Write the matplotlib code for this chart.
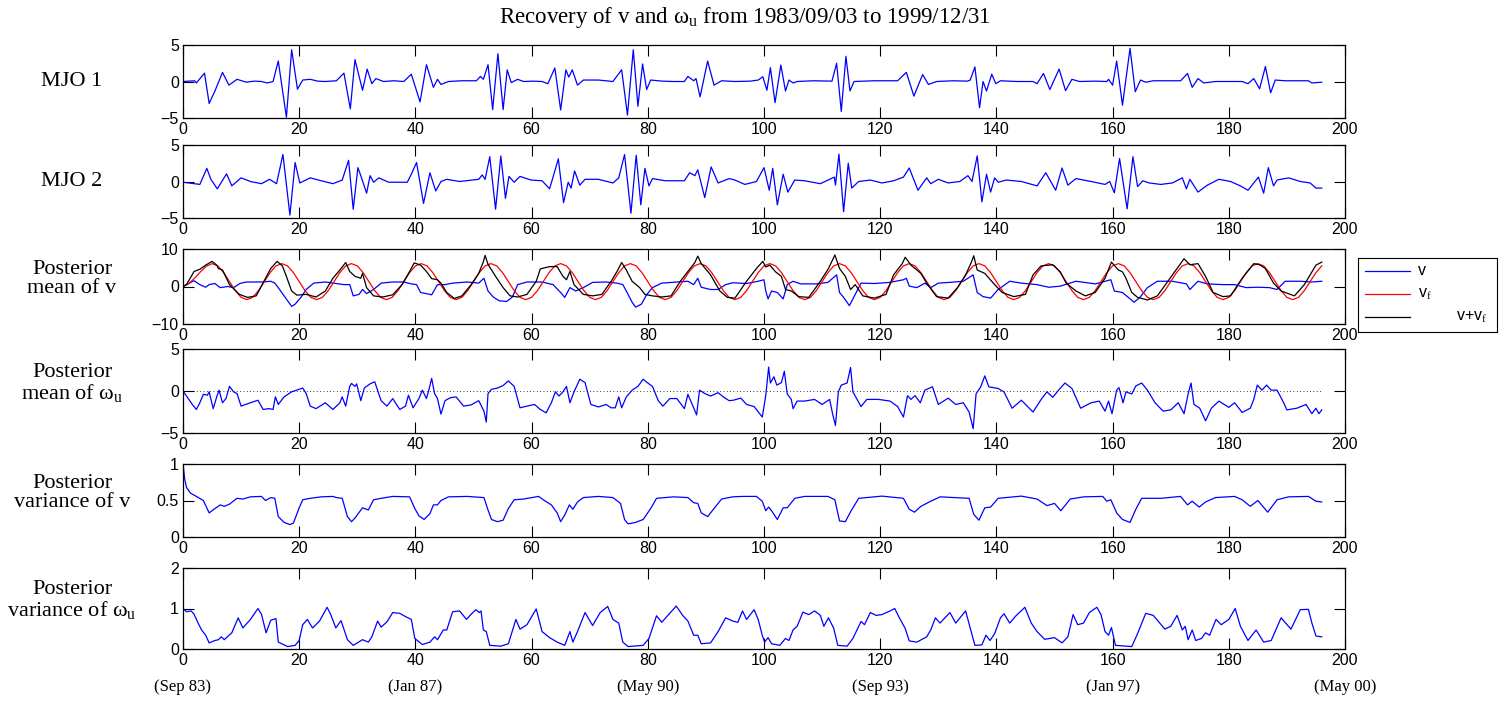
import matplotlib
matplotlib.use('Agg')
import matplotlib.pyplot as plt
import matplotlib.transforms as mtransforms
from matplotlib.ticker import FuncFormatter

plt.rcParams['font.family'] = 'Liberation Sans'
plt.rcParams['mathtext.fontset'] = 'custom'
plt.rcParams['mathtext.rm'] = 'Liberation Serif'
plt.rcParams['mathtext.it'] = 'Liberation Serif'
plt.rcParams['mathtext.default'] = 'rm'

SERIF = 'Liberation Serif'

# ---- data: (month, value) key points ----
mjo1 = [(0, 0.0), (2.0, 0.1), (2.3, -0.2), (3.7, 1.15), (4.5, -3.0), (5.5, -1.3), (6.8, 1.25),
        (7.9, -0.5), (9.3, 0.3), (10.9, -0.1), (12.2, 0.05), (13.5, 0.0), (14.5, -0.2), (15.5, 0.0),
        (16.4, 2.8), (17.8, -4.9), (18.7, 4.35), (19.7, -1.05), (20.6, 0.2), (21.9, 0.3), (23.2, 0.05),
        (24.5, 0.0), (26.4, 0.1), (27.7, 1.15), (28.8, -3.75), (29.6, 3.0), (30.9, -1.2), (31.7, 1.7),
        (32.5, -0.3), (33.2, 0.4), (34.5, 0.0), (36.3, 0.1), (38.0, 0.0), (39.3, 1.0), (40.8, -2.8),
        (41.9, 2.3), (43.1, -0.8), (43.8, 0.3), (44.4, -0.4), (45.7, 0.0), (48.0, 0.1), (50.5, 0.1),
        (51.2, 0.7), (51.7, 0.3), (52.5, 2.3), (53.3, -3.85), (54.2, 3.8), (55.1, -3.85), (55.8, 1.6),
        (56.5, -0.15), (57.6, 0.3), (58.6, 0.0), (60.2, 0.05), (61.8, 0.0), (62.8, -0.3), (64.0, 1.85),
        (65.0, -3.9), (65.9, 1.6), (66.4, 0.6), (67.0, 1.6), (67.9, -0.5), (68.9, 0.2), (71.5, 0.2),
        (74.0, 0.0), (75.5, 1.6), (76.5, -4.6), (77.5, 4.35), (78.3, -3.4), (79.1, 2.4), (79.8, -1.1),
        (80.5, 0.2), (82.5, 0.05), (84.4, 0.0), (86.3, 0.0), (86.9, 0.7), (87.9, 0.1), (88.3, 0.4),
        (89.0, -2.1), (90.3, 2.8), (91.4, -0.5), (92.7, 0.1), (95.0, 0.0), (97.7, 0.05), (99.0, 0.2),
        (99.8, 0.65), (100.5, -1.2), (101.1, 1.9), (101.9, -2.9), (102.9, 2.25), (103.7, -1.3),
        (104.3, 0.2), (105.0, -0.2), (105.7, 0.0), (108.5, 0.1), (111.7, 0.05), (112.5, 2.5),
        (113.3, -4.1), (114.1, 3.45), (114.8, -1.3), (115.5, 0.0), (119.0, 0.1), (123.0, 0.1),
        (124.5, 1.25), (125.8, -2.0), (127.3, 0.95), (128.3, -0.4), (129.7, 0.0), (132.5, 0.1),
        (135.0, 0.05), (135.5, 0.2), (136.3, 2.0), (137.1, -3.6), (137.7, 0.0), (138.3, -1.3),
        (139.2, 1.0), (139.9, -0.3), (140.7, 0.1), (143.5, 0.0), (146.3, 0.0), (147.0, -0.3),
        (148.1, 1.1), (149.2, -1.1), (150.8, 1.7), (151.9, -1.25), (153.0, 0.3), (154.3, 0.0),
        (157.0, 0.05), (159.0, 0.0), (159.3, 0.3), (160.0, -0.5), (160.7, 2.8), (161.7, -3.25),
        (163.0, 4.55), (163.9, -1.4), (164.8, 0.2), (165.7, -0.1), (167.0, 0.1), (171.7, 0.1),
        (172.9, 1.1), (173.7, -0.8), (174.7, 0.4), (175.7, -0.2), (177.7, 0.0), (182.3, 0.0),
        (183.3, -0.3), (184.3, 0.4), (185.3, -1.0), (186.3, 2.05), (187.2, -1.55), (188.0, 0.2),
        (189.7, 0.1), (193.7, 0.1), (194.3, -0.2), (196.0, -0.1)]

mjo2 = [(0, -0.1), (2.9, -0.4), (4.1, 1.8), (4.8, 0.3), (5.9, -1.0), (7.5, 1.05), (8.4, -0.6),
        (10.0, 0.5), (11.6, 0.0), (13.5, -0.3), (14.9, 0.3), (16.1, -0.3), (17.2, 3.7), (18.4, -4.6),
        (19.3, 2.6), (20.1, -0.2), (21.9, 0.5), (23.8, 0.1), (25.8, -0.3), (27.4, 0.2), (28.5, 2.9),
        (29.3, -3.8), (30.1, 1.9), (30.6, 0.8), (31.6, -1.6), (32.2, 0.8), (32.8, -0.1), (33.7, 0.5),
        (35.4, -0.1), (38.6, -0.1), (39.3, 1.0), (40.2, 2.6), (41.4, -3.0), (42.5, 1.2), (43.5, -1.3),
        (44.4, 0.0), (45.4, 0.3), (47.6, 0.0), (50.9, 0.3), (51.5, 0.9), (52.0, 0.3), (52.8, 3.4),
        (53.8, -3.8), (54.7, 3.5), (55.5, -2.3), (56.1, 0.7), (57.0, -0.1), (58.0, 0.7), (59.9, 0.2),
        (61.8, 0.1), (63.1, -1.0), (64.6, 3.1), (65.5, -2.9), (66.3, -0.1), (66.8, -0.9), (67.4, 1.45),
        (68.3, -0.5), (69.2, 0.3), (71.5, 0.3), (74.0, -0.2), (75.0, 0.5), (76.0, 3.7), (77.1, -4.35),
        (78.0, 3.6), (78.8, -3.2), (79.5, 1.8), (80.2, -0.6), (80.8, 0.4), (83.0, 0.1), (86.3, 0.1),
        (87.2, 1.2), (88.1, 0.8), (88.6, 1.6), (89.8, -2.2), (90.9, 2.0), (92.1, -0.2), (94.0, 0.4),
        (95.0, 0.2), (96.7, -0.4), (98.7, 0.0), (100.0, 1.9), (100.9, -1.2), (101.5, 1.8),
        (102.3, -3.2), (103.3, 1.0), (104.1, -1.45), (105.3, 0.2), (107.0, 0.1), (109.7, -0.3),
        (111.3, 0.3), (112.1, 0.6), (112.3, -0.5), (112.9, 3.75), (113.7, -4.15), (114.5, 2.5),
        (115.1, -0.9), (116.3, 0.0), (118.3, 0.2), (120.3, -0.2), (122.3, 0.1), (124.0, 0.6),
        (125.0, 1.85), (126.5, -1.2), (128.0, 0.5), (128.7, -0.3), (130.0, 0.3), (131.7, -0.2),
        (133.7, 0.0), (135.1, 0.8), (135.8, 0.0), (136.7, 3.5), (137.5, -2.8), (138.3, 1.0),
        (139.0, -1.45), (139.7, 0.5), (140.3, -0.1), (141.7, 0.2), (144.3, 0.0), (147.0, -0.6),
        (148.5, 1.2), (150.2, -1.2), (151.3, 1.85), (152.3, -0.5), (153.7, 0.4), (156.3, 0.0),
        (158.7, -0.4), (159.5, 0.0), (160.3, -1.55), (161.2, 3.15), (162.5, -3.75), (163.5, 3.4),
        (164.3, -0.7), (165.2, 0.1), (166.3, -0.2), (168.3, -0.4), (170.3, -0.2), (172.0, 0.5),
        (172.7, -1.0), (173.3, 0.3), (174.7, -1.45), (176.3, -0.5), (178.3, 0.3), (180.3, 0.0),
        (182.0, -0.6), (183.3, -1.2), (185.1, 0.6), (186.0, -1.6), (186.8, 1.9), (187.7, -0.6),
        (188.3, 0.2), (190.3, 0.5), (192.3, 0.0), (194.0, -0.2), (195.0, -0.9), (196.0, -0.9)]

# red curve v_f, one value per month (0..196)
v_f = [0.0, 0.8, 2.2, 3.9, 5.4,
       6.1, 5.5, 3.7, 1.3, -1.1, -2.9, -3.5, -2.9, -1.1, 1.3, 3.7, 5.5,
       6.1, 5.5, 3.7, 1.3, -1.1, -2.9, -3.5, -2.9, -1.1, 1.3, 3.7, 5.5,
       6.1, 5.5, 3.7, 1.3, -1.1, -2.9, -3.5, -2.9, -1.1, 1.3, 3.7, 5.5,
       6.1, 5.5, 3.7, 1.3, -1.1, -2.9, -3.5, -2.9, -1.1, 1.3, 3.7, 5.5,
       6.1, 5.5, 3.7, 1.3, -1.1, -2.9, -3.5, -2.9, -1.1, 1.3, 3.7, 5.5,
       6.1, 5.5, 3.7, 1.3, -1.1, -2.9, -3.5, -2.9, -1.1, 1.3, 3.7, 5.5,
       6.1, 5.5, 3.7, 1.3, -1.1, -2.9, -3.5, -2.9, -1.1, 1.3, 3.7, 5.5,
       6.1, 5.5, 3.7, 1.3, -1.1, -2.9, -3.5, -2.9, -1.1, 1.3, 3.7, 5.5,
       6.1, 5.5, 3.7, 1.3, -1.1, -2.9, -3.5, -2.9, -1.1, 1.3, 3.7, 5.5,
       6.1, 5.5, 3.7, 1.3, -1.1, -2.9, -3.5, -2.9, -1.1, 1.3, 3.7, 5.5,
       6.1, 5.5, 3.7, 1.3, -1.1, -2.9, -3.5, -2.9, -1.1, 1.3, 3.7, 5.5,
       6.1, 5.5, 3.7, 1.3, -1.1, -2.9, -3.5, -2.9, -1.1, 1.3, 3.7, 5.5,
       6.1, 5.5, 3.7, 1.3, -1.1, -2.9, -3.5, -2.9, -1.1, 1.3, 3.7, 5.5,
       6.1, 5.5, 3.7, 1.3, -1.1, -2.9, -3.5, -2.9, -1.1, 1.3, 3.7, 5.5,
       6.1, 5.5, 3.7, 1.3, -1.1, -2.9, -3.5, -2.9, -1.1, 1.3, 3.7, 5.5,
       6.1, 5.5, 3.7, 1.3, -1.1, -2.9, -3.5, -2.9, -1.1, 1.3, 3.7, 5.5]

v_mean = [(0, 0.0), (1.9, 1.55), (2.9, 0.5), (3.9, -0.2), (4.5, 0.5), (5.5, 0.8), (6.4, -0.3),
          (7.7, 0.0), (8.7, -0.3), (9.8, 0.8), (10.9, 1.2), (13.5, 1.2), (15.1, 1.4), (15.8, 0.9),
          (16.4, -0.3), (17.4, -2.5), (18.7, -5.3), (19.3, -4.7), (20.3, -2.9), (21.2, -0.8),
          (22.5, 0.9), (24.5, 1.2), (26.7, 0.7), (27.7, 0.5), (28.7, 0.5), (29.3, -2.5), (30.3, -2.1),
          (30.9, -0.8), (31.6, -1.9), (32.8, -0.8), (34.1, 0.9), (36.1, 1.2), (38.0, 1.2), (39.3, 0.7),
          (40.2, 0.5), (40.9, -1.6), (41.9, -1.9), (42.8, -2.2), (43.8, 0.5), (45.1, 0.5), (46.4, 0.9),
          (48.9, 1.2), (50.9, 0.9), (51.8, 2.2), (52.5, -1.2), (53.4, -2.8), (54.4, -3.8), (55.7, -4.0),
          (56.7, -2.8), (57.6, 0.5), (59.2, 1.2), (61.8, 1.2), (63.7, 0.5), (65.0, -1.6), (65.7, -2.9),
          (66.6, -0.3), (67.6, -1.2), (68.9, -0.3), (70.5, 1.1), (72.8, 1.2), (74.7, 0.9), (75.7, 0.5),
          (76.3, -1.2), (77.3, -4.2), (77.9, -5.5), (78.9, -4.7), (79.8, -2.2), (80.8, -0.3),
          (82.4, 0.9), (85.0, 1.2), (86.9, 1.4), (87.9, 0.5), (88.6, 2.2), (89.2, -0.2), (90.8, -0.8),
          (92.1, -0.8), (93.4, 0.5), (94.6, 1.0), (97.0, 0.8), (99.0, 1.4), (100.0, 1.8),
          (100.3, -1.2), (100.7, -3.3), (101.3, -1.2), (102.3, -1.6), (103.3, -3.3), (104.0, 0.5),
          (105.0, 1.4), (106.3, 0.7), (109.0, 0.7), (111.0, 1.1), (112.5, 3.1), (113.0, -1.6),
          (113.7, -2.9), (114.7, -5.1), (115.7, -2.1), (116.7, 0.9), (119.0, 0.8), (121.7, 1.1),
          (124.0, 1.8), (124.5, 2.2), (125.0, 0.1), (126.3, -0.3), (127.7, 0.9), (128.7, -0.3),
          (130.0, 0.9), (132.0, 1.1), (134.3, 1.4), (136.0, 3.1), (136.7, -1.6), (137.7, -2.7),
          (139.0, -3.1), (140.3, -0.8), (142.3, 1.4), (144.3, 0.9), (147.0, 0.5), (149.0, -0.2),
          (151.0, 0.1), (153.7, 1.4), (157.0, 0.7), (158.7, 1.4), (159.7, 1.8), (160.3, -1.2),
          (161.7, -1.6), (162.7, -2.9), (163.7, -4.2), (164.7, -2.9), (166.0, -0.3), (167.7, 1.4),
          (170.3, 1.4), (172.7, 0.7), (173.3, -0.8), (174.7, 1.4), (176.3, 0.7), (179.0, 0.5),
          (181.0, 0.5), (183.0, -0.3), (185.0, -0.2), (187.0, -0.3), (188.3, -0.8), (189.7, 1.4),
          (192.3, 1.4), (194.3, 1.2), (196.0, 1.4)]

v_total = [(0, 0.0), (0.6, 0.5), (1.9, 4.0), (2.9, 4.6), (3.9, 5.7), (5.0, 6.7), (5.8, 5.7),
           (6.1, 4.8), (6.8, 4.4), (8.0, 0.5), (9.7, -2.1), (11.1, -2.9), (12.6, -2.5), (14.2, 2.2),
           (15.1, 4.8), (16.2, 6.7), (17.1, 5.5), (17.7, 3.1), (18.7, -1.2), (19.6, -2.3), (21.2, -2.1),
           (22.9, -2.8), (24.5, -1.2), (25.8, 2.2), (27.0, 4.4), (28.0, 6.4), (28.7, 4.0), (29.6, 2.7),
           (30.6, 2.2), (30.9, 3.5), (31.6, -0.3), (32.8, -2.5), (34.4, -2.8), (36.1, -2.2),
           (37.7, 0.5), (39.0, 4.0), (39.8, 6.3), (40.9, 5.7), (41.9, 4.0), (42.8, 2.1), (43.8, 1.8),
           (44.4, 0.9), (45.4, -1.6), (46.7, -3.2), (48.0, -2.5), (49.6, 0.5), (50.9, 3.5),
           (51.7, 6.6), (52.0, 8.3), (52.5, 5.9), (53.8, 2.7), (55.1, -0.3), (56.3, -2.5), (57.6, -2.8),
           (59.2, -2.1), (60.8, 1.4), (61.5, 4.7), (63.1, 5.3), (64.4, 5.3), (65.4, 2.7), (66.0, 1.8),
           (66.6, 4.0), (67.3, 0.5), (68.9, -2.1), (70.5, -2.5), (72.1, -2.1), (73.7, 1.4), (74.7, 4.0),
           (75.5, 6.4), (76.3, 4.4), (77.3, 1.4), (78.6, -0.3), (79.5, -2.1), (80.8, -2.5), (82.4, -2.8),
           (84.0, -2.5), (85.6, 1.4), (86.9, 4.0), (88.1, 6.4), (88.6, 8.1), (89.2, 6.1), (90.8, 3.1),
           (92.4, -1.2), (93.7, -2.9), (95.0, -3.1), (97.0, 1.4), (98.7, 4.8), (99.8, 6.7), (100.3, 5.2),
           (101.0, 5.7), (102.0, 3.9), (103.0, 2.7), (103.7, -0.8), (104.7, -1.2), (106.0, -2.7),
           (107.7, -2.9), (109.7, 1.4), (111.1, 4.8), (112.2, 8.4), (113.0, 4.8), (114.0, 2.7),
           (114.9, -0.8), (115.7, 0.5), (117.0, -2.5), (119.0, -3.1), (121.0, -2.1), (122.3, 3.1),
           (123.8, 6.1), (124.3, 7.8), (125.3, 5.7), (127.0, 3.5), (128.0, 0.9), (129.7, -2.7),
           (131.7, -3.1), (133.3, -0.3), (134.7, 3.1), (135.7, 6.5), (136.1, 8.2), (136.7, 4.4),
           (138.0, 3.5), (139.7, 0.5), (141.0, -1.6), (143.0, -2.7), (145.0, -2.1), (146.3, 3.1),
           (147.7, 5.5), (149.7, 5.8), (151.0, 3.9), (152.0, 0.9), (153.7, -1.2), (155.3, -2.5),
           (157.0, -1.6), (158.7, 2.2), (159.8, 6.5), (161.0, 4.4), (161.7, 3.9), (162.3, 2.2),
           (163.3, -1.6), (164.3, -2.9), (166.0, -3.6), (167.7, -2.5), (169.7, 1.8), (171.3, 5.2),
           (172.3, 7.4), (173.3, 5.8), (174.7, 6.1), (176.0, 2.7), (177.3, -1.6), (179.0, -2.7),
           (180.3, -2.5), (182.3, 2.2), (184.3, 6.1), (185.3, 5.8), (186.3, 4.8), (187.7, 0.9),
           (189.0, -1.2), (191.3, -2.5), (193.0, 0.5), (195.0, 5.7), (196.0, 6.5)]

omega_mean = [(0, 0.0), (0.6, -0.6), (1.6, -1.6), (2.3, -2.2), (2.9, -1.4), (3.5, -0.4), (4.2, -0.5),
              (4.5, -0.1), (5.2, -2.1), (5.8, -0.7), (6.2, 0.1), (6.8, -1.4), (7.4, -0.9), (8.0, 0.55),
              (8.7, -0.1), (9.3, -0.3), (10.0, -1.8), (11.6, -1.4), (12.9, -1.1), (13.8, -2.2),
              (14.8, -2.1), (15.5, -2.2), (15.9, -0.7), (16.4, -1.6), (17.4, -0.7), (18.7, -0.1),
              (20.0, 0.2), (20.6, 0.35), (21.2, -0.3), (21.9, -1.8), (22.9, -2.1), (24.5, -1.4),
              (25.8, -2.2), (27.0, -1.4), (27.4, -0.7), (28.0, -1.8), (28.7, 0.55), (29.0, 0.9),
              (29.6, 0.55), (29.9, 0.85), (30.6, -1.15), (31.2, 0.35), (32.2, 0.85), (33.0, 1.1),
              (34.1, -1.15), (35.1, -1.8), (36.1, -0.9), (37.3, -2.2), (38.3, -1.8), (38.8, -0.5),
              (39.6, -2.0), (40.6, -0.9), (41.2, 0.1), (41.9, -0.9), (42.4, 0.35), (42.8, 1.5),
              (43.3, -0.3), (43.8, -0.9), (44.4, -2.75), (45.1, -1.15), (46.0, -0.8), (47.0, -0.7),
              (48.3, -1.8), (49.6, -1.65), (50.9, -1.15), (51.5, -2.0), (51.8, -2.4), (52.2, -3.7),
              (52.5, -0.3), (53.1, 0.2), (54.1, 0.35), (55.1, 0.65), (56.0, 1.2), (57.0, 0.55),
              (58.0, -2.0), (59.2, -1.8), (60.5, -1.6), (61.5, -2.2), (62.5, -2.6), (63.4, -1.4),
              (64.1, -0.1), (64.7, -0.6), (65.4, -0.1), (66.0, 0.55), (66.6, -1.4), (67.3, -0.1),
              (68.3, 1.4), (69.2, 1.0), (70.2, -1.6), (71.5, -1.9), (72.8, -1.6), (73.7, -2.0),
              (74.4, -2.0), (75.0, -0.7), (75.5, -2.0), (76.3, -0.7), (77.3, 0.1), (78.3, 0.55),
              (79.2, 1.4), (79.8, 1.05), (80.8, 0.55), (81.8, -1.15), (82.6, -1.8), (83.8, -0.9),
              (85.0, -0.9), (86.3, -2.1), (86.9, -0.4), (87.9, -2.0), (88.4, -2.85), (88.9, 0.1),
              (89.8, -0.3), (90.8, -0.6), (92.1, -0.2), (93.0, -0.7), (94.0, -1.15), (94.7, -1.1),
              (96.0, -0.85), (97.0, -1.6), (98.3, -1.85), (99.7, -3.1), (100.3, -0.55), (100.8, 2.85),
              (101.1, 0.95), (101.7, 1.7), (102.2, 0.7), (103.0, 1.0), (103.5, 2.35), (104.0, -0.35),
              (104.7, -1.0), (105.0, -2.1), (105.7, -1.2), (107.0, -1.2), (108.7, -1.0), (110.0, -1.6),
              (111.3, -1.0), (111.8, -2.7), (112.3, -4.1), (112.8, -0.1), (113.3, 0.7), (114.3, 0.95),
              (114.9, 2.8), (115.3, -0.1), (116.7, -1.85), (117.7, -1.0), (119.7, -1.0), (121.7, -1.2),
              (123.0, -1.85), (124.0, -3.1), (124.7, -0.55), (125.3, -1.0), (126.0, -0.55),
              (126.9, -1.4), (127.7, 0.1), (129.0, 0.5), (130.0, -1.6), (131.7, -0.85), (133.0, -1.6),
              (134.3, -1.4), (135.3, -2.5), (136.0, -4.5), (136.5, -0.35), (137.3, 0.5), (138.0, 1.8),
              (138.7, 0.5), (140.3, 0.3), (141.3, -0.1), (142.7, -2.05), (144.3, -1.1), (146.3, -2.5),
              (147.7, -1.0), (148.7, -0.1), (149.7, -0.75), (150.7, 0.1), (151.8, 0.95), (153.0, 0.3),
              (154.5, -2.05), (156.3, -1.4), (157.7, -1.2), (158.7, -2.4), (159.3, -1.2), (159.9, -2.7),
              (160.7, 0.1), (161.1, 0.4), (161.8, -1.4), (162.3, -0.1), (163.3, -0.35), (164.0, 0.6),
              (165.0, 0.95), (166.0, 0.1), (167.3, -1.4), (168.7, -2.4), (170.0, -2.25), (171.3, -1.4),
              (172.3, -2.7), (173.0, -0.35), (173.5, 0.95), (174.0, -1.6), (175.0, -2.05),
              (176.0, -3.55), (177.0, -2.05), (178.3, -1.2), (180.0, -1.95), (181.0, -1.4),
              (182.3, -2.55), (183.7, -2.05), (184.3, -1.0), (184.9, 0.7), (185.7, 0.1), (186.5, 0.7),
              (187.3, 0.1), (188.3, 0.1), (189.3, -1.2), (190.0, -2.25), (191.7, -2.05), (193.3, -1.6),
              (194.3, -2.7), (195.0, -2.05), (195.5, -2.7), (196.0, -2.25)]

v_var = [(0, 1.0), (0.3, 0.79), (0.6, 0.68), (1.3, 0.6), (2.3, 0.556), (3.5, 0.5), (4.5, 0.33),
         (5.5, 0.39), (6.4, 0.44), (7.1, 0.42), (8.0, 0.45), (9.3, 0.53), (10.3, 0.52), (11.6, 0.55),
         (13.5, 0.556), (14.2, 0.5), (15.1, 0.54), (15.8, 0.53), (16.4, 0.28), (17.4, 0.2),
         (18.4, 0.17), (19.0, 0.19), (20.0, 0.4), (20.6, 0.51), (21.9, 0.53), (23.8, 0.55),
         (25.8, 0.556), (26.4, 0.54), (27.4, 0.53), (28.3, 0.28), (29.0, 0.21), (29.6, 0.26),
         (30.9, 0.4), (31.9, 0.37), (32.8, 0.51), (34.1, 0.53), (36.1, 0.556), (39.0, 0.55),
         (39.9, 0.39), (40.6, 0.29), (41.5, 0.24), (42.5, 0.32), (43.1, 0.44), (43.8, 0.44),
         (44.4, 0.5), (45.7, 0.55), (48.9, 0.556), (51.8, 0.54), (52.5, 0.37), (53.1, 0.24),
         (54.1, 0.21), (55.1, 0.23), (56.0, 0.39), (57.0, 0.51), (58.6, 0.52), (61.2, 0.556),
         (62.2, 0.5), (63.4, 0.44), (64.4, 0.33), (65.0, 0.21), (65.7, 0.3), (66.5, 0.44),
         (67.1, 0.38), (67.9, 0.48), (68.9, 0.54), (71.5, 0.556), (74.0, 0.54), (75.3, 0.46),
         (76.0, 0.24), (76.6, 0.18), (77.9, 0.2), (79.2, 0.24), (80.5, 0.39), (81.5, 0.53),
         (84.4, 0.55), (86.9, 0.54), (87.9, 0.47), (88.6, 0.46), (89.2, 0.33), (90.3, 0.28),
         (91.4, 0.39), (92.7, 0.52), (94.6, 0.55), (96.3, 0.556), (98.7, 0.556), (99.7, 0.49),
         (100.3, 0.36), (100.8, 0.41), (101.3, 0.36), (102.3, 0.24), (103.3, 0.4), (104.0, 0.4),
         (105.3, 0.53), (107.0, 0.556), (111.0, 0.556), (112.2, 0.51), (113.0, 0.22), (114.0, 0.21),
         (115.0, 0.36), (116.3, 0.53), (120.3, 0.56), (124.0, 0.53), (125.0, 0.38), (125.9, 0.34),
         (127.0, 0.42), (128.7, 0.49), (130.3, 0.55), (135.3, 0.53), (136.1, 0.31), (137.0, 0.23),
         (138.0, 0.4), (139.0, 0.41), (140.3, 0.53), (144.3, 0.56), (147.0, 0.52), (148.7, 0.43),
         (150.0, 0.46), (151.1, 0.36), (152.7, 0.52), (155.0, 0.55), (158.3, 0.556), (159.0, 0.49),
         (159.7, 0.51), (160.7, 0.33), (161.7, 0.24), (163.0, 0.2), (164.0, 0.38), (165.0, 0.53),
         (168.3, 0.53), (171.7, 0.556), (172.9, 0.44), (173.7, 0.49), (174.9, 0.41), (176.0, 0.48),
         (177.7, 0.54), (181.0, 0.556), (182.3, 0.51), (183.7, 0.42), (185.0, 0.5), (186.7, 0.34),
         (188.3, 0.51), (190.3, 0.55), (193.7, 0.556), (195.0, 0.49), (196.0, 0.48)]

omega_var = [(0, 1.0), (0.6, 0.92), (1.4, 0.94), (1.9, 0.86), (2.6, 0.64), (3.2, 0.47), (3.9, 0.34),
             (4.5, 0.15), (5.5, 0.21), (6.1, 0.23), (6.6, 0.3), (7.1, 0.23), (8.4, 0.4), (9.5, 0.77),
             (10.3, 0.52), (11.6, 0.73), (12.9, 1.0), (13.5, 0.86), (14.3, 0.4), (15.1, 0.71),
             (16.0, 0.75), (16.4, 0.17), (18.0, 0.06), (19.3, 0.09), (20.0, 0.21), (20.6, 0.6),
             (21.4, 0.73), (22.3, 0.52), (23.5, 0.69), (24.8, 1.03), (25.4, 0.86), (26.3, 0.52),
             (27.2, 0.7), (28.3, 0.23), (29.3, 0.09), (30.9, 0.23), (31.9, 0.17), (32.5, 0.3),
             (33.5, 0.69), (34.1, 0.54), (35.1, 0.67), (36.1, 0.9), (37.3, 0.88), (38.3, 0.8),
             (39.3, 0.73), (39.9, 0.26), (41.2, 0.11), (42.5, 0.17), (43.3, 0.3), (43.8, 0.23),
             (44.8, 0.47), (45.4, 0.47), (46.4, 0.92), (47.6, 0.94), (48.8, 0.73), (49.6, 0.86),
             (50.4, 0.97), (51.0, 0.9), (51.3, 0.94), (51.7, 0.47), (52.2, 0.43), (52.8, 0.09),
             (54.7, 0.07), (56.0, 0.13), (57.3, 0.73), (58.0, 0.49), (59.2, 0.6), (60.8, 0.99),
             (61.8, 0.43), (63.1, 0.28), (64.4, 0.17), (65.7, 0.09), (66.6, 0.43), (67.1, 0.17),
             (67.9, 0.43), (69.2, 0.9), (70.5, 0.58), (71.8, 0.9), (73.1, 1.05), (74.0, 0.73),
             (75.0, 0.64), (75.7, 0.17), (76.6, 0.06), (79.2, 0.09), (80.2, 0.26), (81.5, 0.82),
             (82.4, 0.66), (83.4, 0.82), (84.9, 1.06), (86.0, 0.83), (86.9, 0.69), (87.9, 0.34),
             (88.6, 0.34), (89.2, 0.13), (90.8, 0.15), (92.1, 0.43), (93.4, 0.77), (94.6, 0.69),
             (95.5, 0.66), (96.3, 0.94), (97.0, 0.73), (98.3, 0.97), (99.0, 0.73), (99.7, 0.34),
             (100.1, 0.17), (100.7, 0.28), (101.3, 0.13), (102.7, 0.09), (103.7, 0.26), (104.3, 0.21),
             (105.0, 0.47), (105.7, 0.56), (106.7, 0.91), (107.7, 0.85), (108.7, 0.94), (109.7, 0.83),
             (110.3, 0.56), (111.1, 0.77), (112.0, 0.51), (112.7, 0.09), (114.3, 0.07), (115.3, 0.26),
             (116.7, 0.68), (117.3, 0.6), (118.3, 0.9), (119.3, 0.83), (120.3, 0.85), (121.7, 0.94),
             (122.5, 1.0), (123.3, 0.77), (124.3, 0.51), (125.0, 0.2), (126.3, 0.17), (128.0, 0.3),
             (128.7, 0.47), (129.5, 0.77), (130.3, 0.64), (132.0, 0.9), (133.0, 0.64), (134.7, 0.94),
             (135.5, 0.51), (136.3, 0.09), (137.5, 0.1), (138.2, 0.34), (138.9, 0.21), (139.7, 0.38),
             (140.7, 0.77), (141.3, 0.87), (142.3, 0.64), (143.3, 0.81), (144.9, 1.03), (146.0, 0.64),
             (147.0, 0.43), (148.3, 0.24), (150.0, 0.28), (151.3, 0.15), (152.3, 0.3), (153.2, 0.85),
             (154.0, 0.6), (155.0, 0.64), (156.0, 0.9), (157.3, 1.03), (158.0, 0.85), (158.7, 0.43),
             (159.3, 0.34), (159.8, 0.53), (160.5, 0.09), (163.3, 0.06), (164.3, 0.38), (165.7, 0.88),
             (167.0, 0.83), (169.0, 0.49), (170.0, 0.56), (171.1, 0.83), (172.0, 0.47), (172.5, 0.56),
             (173.0, 0.23), (173.7, 0.47), (174.3, 0.21), (175.3, 0.26), (176.0, 0.4), (176.7, 0.34),
             (177.8, 0.73), (178.7, 0.6), (180.0, 0.73), (181.1, 1.0), (182.0, 0.56), (183.3, 0.21),
             (184.7, 0.47), (186.0, 0.17), (187.3, 0.21), (189.0, 0.77), (190.7, 0.49), (192.3, 0.97),
             (193.7, 0.98), (194.3, 0.64), (195.0, 0.32), (196.0, 0.3)]

panel_labels = ['MJO 1', 'MJO 2', 'Posterior\nmean of v', 'Posterior\nmean of \u03c9$_u$',
                'Posterior\nvariance of v', 'Posterior\nvariance of \u03c9$_u$']
date_ticks = [0, 40, 80, 120, 160, 200]
date_labels = ['(Sep 83)', '(Jan 87)', '(May 90)', '(Sep 93)', '(Jan 97)', '(May 00)']
legend_labels = ['v', 'v$_f$', 'v+v$_f$']
legend_colors = ['#0000ff', '#ff0000', 'black']
title = 'Recovery of v and \u03c9$_u$ from 1983/09/03 to 1999/12/31'

# ---- layout (figure pixels: top, bottom of each panel box) ----
W, H = 1510, 702
boxes = [(45, 118), (145, 218), (249, 324), (349, 433), (464, 537), (568, 649)]
x0, x1 = 183, 1345

fig = plt.figure(figsize=(W / 100, H / 100), dpi=100)
axes = []
for top, bot in boxes:
    ax = fig.add_axes([x0 / W, 1 - bot / H, (x1 - x0) / W, (bot - top) / H])
    axes.append(ax)


def unzip(pairs):
    return [p[0] for p in pairs], [p[1] for p in pairs]


def tick_fmt(v, pos):
    return ('%g' % v).replace('-', '\u2212')


def style(ax, ylim, yticks):
    ax.set_xlim(0, 200)
    ax.set_ylim(*ylim)
    ax.set_xticks(range(0, 201, 20))
    ax.set_yticks(yticks)
    ax.yaxis.set_major_formatter(FuncFormatter(tick_fmt))
    ax.tick_params(direction='in', top=True, right=True, length=8, width=0.8,
                   labelsize=11.5, pad=3)
    for s in ax.spines.values():
        s.set_linewidth(0.9)


lw = 0.9
ax = axes[0]
ax.plot(*unzip(mjo1), color='#0000ff', lw=lw)
style(ax, (-5, 5), [-5, 0, 5])

ax = axes[1]
ax.plot(*unzip(mjo2), color='#0000ff', lw=lw)
style(ax, (-5, 5), [-5, 0, 5])

ax = axes[2]
ax.plot(*unzip(v_mean), color=legend_colors[0], lw=lw)
ax.plot(range(len(v_f)), v_f, color=legend_colors[1], lw=lw)
ax.plot(*unzip(v_total), color=legend_colors[2], lw=lw)
style(ax, (-10, 10), [-10, 0, 10])

# legend box drawn as its own small axes (MATLAB style spacing)
lax = fig.add_axes([1358 / W, 1 - 332 / H, 139 / W, 74 / H])
lax.set_xlim(0, 139)
lax.set_ylim(74, 0)
lax.set_xticks([])
lax.set_yticks([])
for s in lax.spines.values():
    s.set_linewidth(0.8)
row_y = [13, 36, 59]
text_x = [60, 60, 98]
for yy, tx, lab, col in zip(row_y, text_x, legend_labels, legend_colors):
    lax.plot([7, 52], [yy, yy], color=col, lw=lw)
    lax.text(tx, yy, lab, ha='left', va='center', fontsize=11.5)

ax = axes[3]
ax.plot(*unzip(omega_mean), color='#0000ff', lw=lw)
ax.plot([0, 196], [0, 0], color='black', lw=0.6, ls=(0, (1, 3)))
style(ax, (-5, 5), [-5, 0, 5])

ax = axes[4]
ax.plot(*unzip(v_var), color='#0000ff', lw=lw)
style(ax, (0, 1), [0, 0.5, 1])

ax = axes[5]
ax.plot(*unzip(omega_var), color='#0000ff', lw=lw)
style(ax, (0, 2), [0, 1, 2])
trans = mtransforms.blended_transform_factory(ax.transData, ax.transAxes)
for xv, lab in zip(date_ticks, date_labels):
    ax.text(xv, -0.52, lab, transform=trans, ha='center', va='baseline', family=SERIF, fontsize=12)

for ax, lab, (top, bot) in zip(axes, panel_labels, boxes):
    yc = 1 - (top + bot) / 2 / H
    if '\n' in lab:
        yc += 0.011
    fig.text(72 / W, yc, lab, ha='center', va='center', family=SERIF, fontsize=16,
             linespacing=1.0)

fig.text(745 / W, 1 - 18 / H, title, ha='center', va='center', family=SERIF, fontsize=16.5)

fig.savefig('out.png', dpi=100)
